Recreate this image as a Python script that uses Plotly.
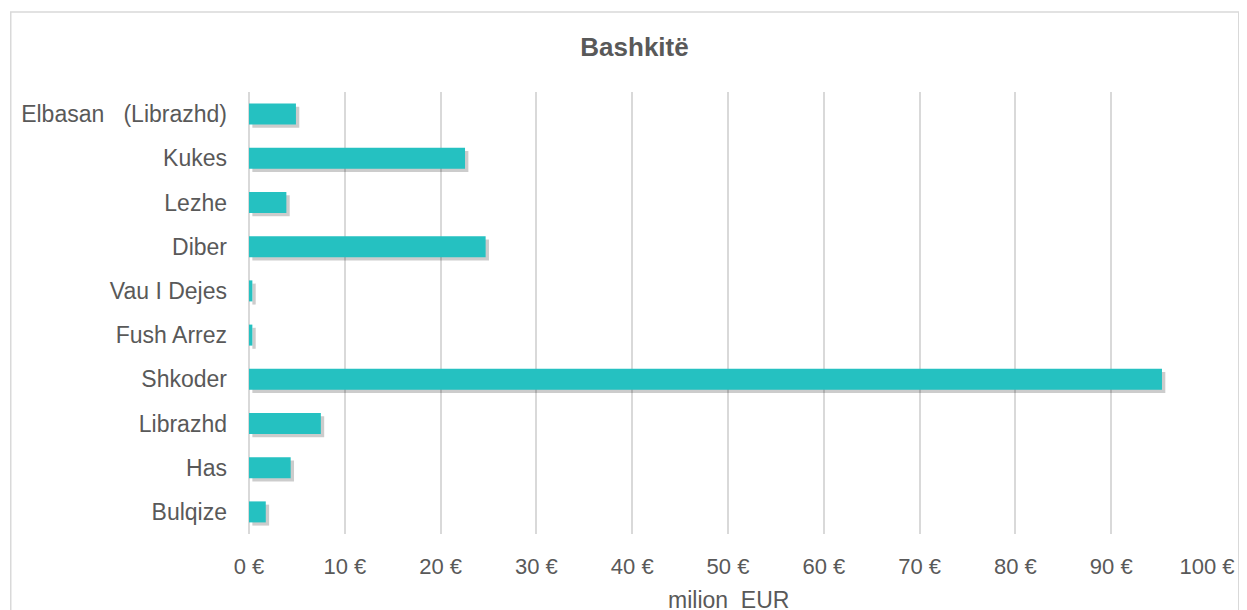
import plotly.graph_objects as go

categories = ["Elbasan\u00a0\u00a0\u00a0(Librazhd)", "Kukes", "Lezhe", "Diber", "Vau I Dejes",
              "Fush Arrez", "Shkoder", "Librazhd", "Has", "Bulqize"]
values = [4.9, 22.55, 3.9, 24.7, 0.35, 0.35, 95.3, 7.5, 4.35, 1.75]
tick_vals = [0, 10, 20, 30, 40, 50, 60, 70, 80, 90, 100]
tick_text = ["0 €", "10 €", "20 €", "30 €", "40 €", "50 €", "60 €", "70 €", "80 €", "90 €", "100 €"]

# page body has an 8px margin; figure is placed at (8, 8)
OFF = 8
W, H = 1247 - OFF, 610 - OFF
L, T = 249 - OFF, 92 - OFF
R, B = W - (1214 - OFF), H - (534 - OFF)
pw, ph = W - L - R, H - T - B

fig = go.Figure()
# soft shadow
fig.add_trace(go.Bar(
    y=categories, x=values, orientation="h", width=0.475, offset=-0.165,
    base=0.35, marker=dict(color="rgba(0,0,0,0.2)", line=dict(width=0)),
    hoverinfo="skip", showlegend=False))
fig.add_trace(go.Bar(
    y=categories, x=values, orientation="h", width=0.475, offset=-0.2375,
    marker=dict(color="#25C1C1", line=dict(width=0)), showlegend=False))

fig.update_layout(
    width=W, height=H,
    margin=dict(l=L, r=R, t=T, b=B, pad=0),
    paper_bgcolor="white", plot_bgcolor="white",
    barmode="overlay",
    font=dict(family="Liberation Sans, Arial, sans-serif", size=23, color="#595959"),
    title=dict(text="<b>Bashkitë</b>", x=(634.5 - OFF) / W, xanchor="center",
               y=1 - (47 - OFF) / H, yanchor="middle",
               font=dict(size=26, color="#595959")),
    xaxis=dict(range=[0, 100], tickvals=tick_vals, ticktext=tick_text,
               showgrid=True, gridcolor="#D9D9D9", gridwidth=1.5,
               zeroline=True, zerolinecolor="#D9D9D9", zerolinewidth=1.5,
               showline=False, ticks="", ticklabelstandoff=17, fixedrange=True,
               tickfont=dict(size=22)),
    yaxis=dict(autorange="reversed", showgrid=False, showline=False, ticks="",
               ticklabelstandoff=21, fixedrange=True, tickfont=dict(size=23)),
    shapes=[dict(type="rect", xref="paper", yref="paper",
                 x0=(9 - 249) / pw, x1=(1246 - 249) / pw,
                 y0=-0.3, y1=1 + (92 - 12) / ph,
                 line=dict(color="#D9D9D9", width=1.5), layer="below")],
    annotations=[dict(text="milion\u00a0 EUR", xref="paper", yref="paper",
                      x=0.5, y=-(600 - 534) / ph, xanchor="center", yanchor="middle",
                      showarrow=False, font=dict(size=23, color="#595959"))],
)

fig.write_html("out.html")
